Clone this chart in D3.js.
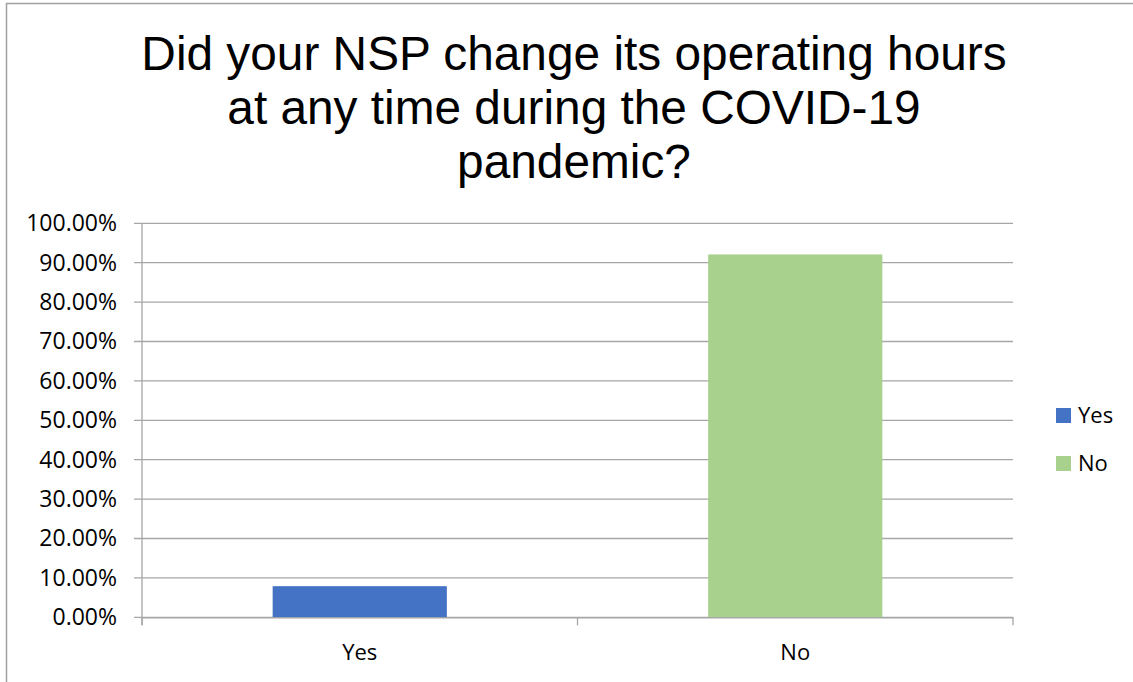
<!DOCTYPE html>
<html>
<head>
<meta charset="utf-8">
<script src="https://cdn.jsdelivr.net/npm/d3@7"></script>
<style>
  body { margin: 0; background: #fff; }
  svg { display: block; }
</style>
</head>
<body>
<div id="chart"></div>
<script>
(function(d3) {
    var categories = ["Yes", "No"];
    var values = [7.9, 92.1];
    var colors = ["#4472C4", "#A9D18E"];
    var tickValues = [0, 10, 20, 30, 40, 50, 60, 70, 80, 90, 100];
    var titleLines = ["Did your NSP change its operating hours", "at any time during the COVID-19", "pandemic?"];

    var width = 1133, height = 682;
    var plotLeft = 142, plotRight = 1013, plotTop = 223.3, plotBottom = 617.3;
    var axisColor = "#a6a6a6";

    var svg = d3.select("#chart")
        .append("svg")
        .attr("width", width)
        .attr("height", height);

    // chart frame
    svg.append("rect")
        .attr("x", 6.5).attr("y", 3.5)
        .attr("width", width + 20).attr("height", height + 20)
        .attr("fill", "none")
        .attr("stroke", "#a0a0a0")
        .attr("stroke-width", 1.5);

    // title
    svg.append("g").selectAll("text")
        .data(titleLines)
        .enter()
        .append("text")
        .text(function(d) { return d; })
        .attr("x", 574)
        .attr("y", function(d, i) { return 69.5 + i * 54; })
        .attr("text-anchor", "middle")
        .attr("font-family", "'Liberation Sans', Arial, sans-serif")
        .attr("font-size", "47.8px")
        .attr("fill", "#000");

    var x = d3.scaleBand()
        .domain(categories)
        .range([plotLeft, plotRight])
        .paddingInner(0.6)
        .paddingOuter(0.3);

    var y = d3.scaleLinear()
        .domain([0, 100])
        .range([plotBottom, plotTop]);

    // gridlines
    svg.append("g").selectAll("line")
        .data(tickValues)
        .enter()
        .append("line")
        .attr("x1", plotLeft - 8)
        .attr("x2", plotRight)
        .attr("y1", function(d) { return y(d); })
        .attr("y2", function(d) { return y(d); })
        .attr("stroke", axisColor)
        .attr("stroke-width", 1.3);

    // y axis labels
    var yAxis = d3.axisLeft(y)
        .tickValues(tickValues)
        .tickSize(0)
        .tickPadding(25)
        .tickFormat(function(d) { return d3.format(".2f")(d) + "%"; });

    var yAxisGroup = svg.append("g")
        .attr("transform", "translate(" + plotLeft + ",0)")
        .call(yAxis);
    yAxisGroup.select(".domain").remove();
    yAxisGroup.selectAll("text")
        .attr("font-family", "'Open Sans', sans-serif")
        .attr("font-size", "23px")
        .attr("fill", "#000");

    // bars
    svg.append("g").selectAll("rect")
        .data(values)
        .enter()
        .append("rect")
        .attr("x", function(d, i) { return x(categories[i]); })
        .attr("y", function(d) { return y(d); })
        .attr("width", x.bandwidth())
        .attr("height", function(d) { return plotBottom - y(d); })
        .attr("fill", function(d, i) { return colors[i]; });

    // y axis line
    svg.append("line")
        .attr("x1", plotLeft).attr("x2", plotLeft)
        .attr("y1", plotTop).attr("y2", plotBottom + 8)
        .attr("stroke", axisColor)
        .attr("stroke-width", 1.3);

    // x axis
    var xAxis = d3.axisBottom(x)
        .tickSize(0)
        .tickPadding(27);

    var xAxisGroup = svg.append("g")
        .attr("transform", "translate(0," + plotBottom + ")")
        .call(xAxis);
    xAxisGroup.select(".domain")
        .attr("stroke", axisColor)
        .attr("stroke-width", 1.3);
    xAxisGroup.selectAll("text")
        .attr("font-family", "'Open Sans', sans-serif")
        .attr("font-size", "22px")
        .attr("fill", "#000");

    // category boundary ticks
    var boundaries = d3.range(categories.length + 1).map(function(i) { return plotLeft + i * (plotRight - plotLeft) / categories.length; });
    svg.append("g").selectAll("line")
        .data(boundaries)
        .enter()
        .append("line")
        .attr("x1", function(d) { return d; })
        .attr("x2", function(d) { return d; })
        .attr("y1", plotBottom)
        .attr("y2", plotBottom + 8)
        .attr("stroke", axisColor)
        .attr("stroke-width", 1.3);

    // legend
    var legend = svg.append("g").selectAll("g")
        .data(categories)
        .enter()
        .append("g")
        .attr("transform", function(d, i) { return "translate(1056," + (408 + i * 48) + ")"; });
    legend.append("rect")
        .attr("width", 15).attr("height", 15)
        .attr("fill", function(d, i) { return colors[i]; });
    legend.append("text")
        .text(function(d) { return d; })
        .attr("x", 22)
        .attr("y", 14.5)
        .attr("font-family", "'Open Sans', sans-serif")
        .attr("font-size", "22px")
        .attr("fill", "#000");
})(window.d3);
</script>
</body>
</html>
